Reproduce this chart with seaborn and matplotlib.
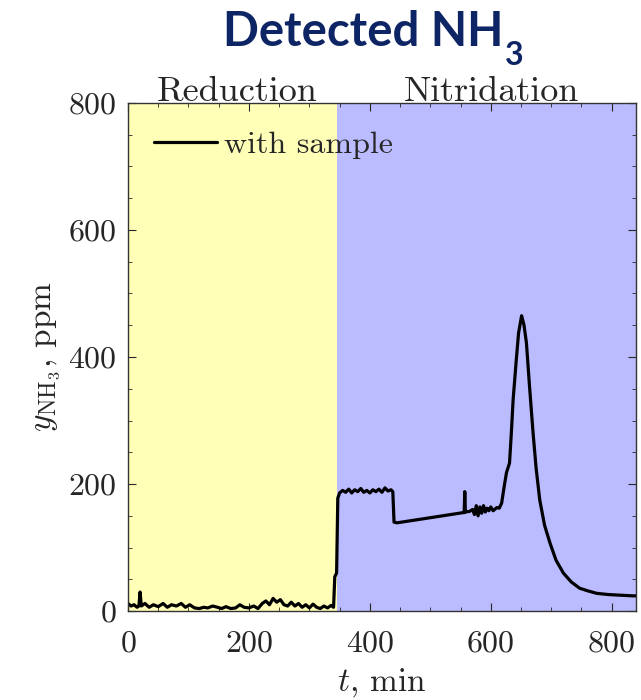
import numpy as np
import pandas as pd
import matplotlib
matplotlib.use('Agg')
import matplotlib.pyplot as plt
from matplotlib.ticker import MultipleLocator
import seaborn as sns

t_min = [0, 5, 10, 15, 18, 20, 22, 28, 35, 42, 50, 58, 65, 72, 80, 88, 95, 102, 110, 118,
         125, 132, 140, 148, 155, 162, 170, 178, 185, 192, 200, 208, 215, 222, 228, 234,
         240, 246, 252, 258, 264, 270, 276, 282, 288, 294, 300, 306, 312, 318, 324, 330,
         336, 340,
         342, 345, 347, 350,
         355, 360, 365, 370, 375, 380, 385, 390, 395, 400, 405, 410, 415, 420, 425, 430,
         435, 438,
         440, 445,
         500, 554, 556, 557, 558, 565,
         570, 573, 576, 579, 582, 585, 588, 591, 594, 597, 600, 604, 610, 614,
         618, 622, 626, 631, 634, 637, 642, 646, 651, 655, 659, 664, 670, 675, 681, 689,
         698, 708, 720, 733, 747, 760, 775, 795, 815, 835, 840]
y_ppm = [12, 8, 10, 6, 8, 30, 8, 12, 6, 10, 7, 12, 6, 10, 8, 12, 6, 10, 5, 4,
         6, 5, 8, 6, 4, 7, 4, 5, 10, 6, 5, 8, 4, 12, 16, 10,
         20, 14, 18, 10, 8, 14, 8, 12, 6, 10, 5, 11, 6, 4, 8, 5,
         9, 6,
         54, 60, 178, 186,
         190, 187, 192, 186, 191, 188, 193, 187, 190, 186, 191, 188, 192, 187, 194, 189,
         191, 188,
         140, 139,
         147, 155, 155, 188, 156, 157,
         160, 152, 166, 150, 164, 154, 166, 156, 162, 158, 164, 158, 163, 162,
         170, 195, 218, 233, 280, 333, 393, 438, 465, 450, 422, 355, 280, 225, 175, 135,
         107, 80, 60, 46, 36, 32, 28, 26, 25, 24, 24]

phases = ['Reduction', 'Nitridation']
phase_start = [0, 345]
phase_end = [345, 840]
phase_colors = ['#ffffb8', '#bbbbff']

df = pd.DataFrame({'t': t_min, 'y': y_ppm})

sns.set_style('ticks')
plt.rcParams['font.family'] = ['cmr10', 'DejaVu Serif']
plt.rcParams['mathtext.fontset'] = 'cm'
plt.rcParams['axes.formatter.use_mathtext'] = True

fig = plt.figure(figsize=(6.41, 7.0), dpi=100)
ax = fig.add_axes([0.1997, 0.127, 0.7923, 0.726])

for name, s, e, c in zip(phases, phase_start, phase_end, phase_colors):
    ax.axvspan(s, e, color=c, lw=0, zorder=0)
    ax.text((s + e) / 2 + 8, 0.99, name, transform=ax.get_xaxis_transform(),
            ha='center', va='bottom', fontsize=26)

sns.lineplot(data=df, x='t', y='y', color='black', lw=2.3, sort=False,
             estimator=None, label='with sample', ax=ax)

ax.set_xlim(0, 840)
ax.set_ylim(0, 800)
ax.xaxis.set_major_locator(MultipleLocator(200))
ax.yaxis.set_major_locator(MultipleLocator(200))
ax.xaxis.set_minor_locator(MultipleLocator(50))
ax.yaxis.set_minor_locator(MultipleLocator(50))
ax.tick_params(which='both', direction='in', top=True, right=True, labelsize=23)
ax.tick_params(axis='x', pad=14)
ax.tick_params(axis='y', pad=8)
ax.tick_params(which='major', length=6, width=0.8)
ax.tick_params(which='minor', length=3, width=0.6)
for sp in ax.spines.values():
    sp.set_linewidth(1.0)
    sp.set_color('#333333')

ax.set_xlabel(r'$t$, min', fontsize=24, labelpad=6)
ax.set_ylabel(r'$y_{\mathrm{NH_3}}$, ppm', fontsize=24, labelpad=4)

leg = ax.legend(loc='upper left', frameon=False, fontsize=23, handlelength=2.0,
                handletextpad=0.2, borderaxespad=0.4, bbox_to_anchor=(0.0, 0.995))

title = fig.text(0.567, 0.935, 'Detected NH', ha='center', va='baseline',
                 fontsize=34, fontweight='bold', family='Lato', color='#0e2565')
ax.annotate('3', xy=(1.0, 0.0), xycoords=title, xytext=(1, -8),
            textcoords='offset points', ha='left', va='baseline',
            fontsize=23, fontweight='bold', family='Lato', color='#0e2565')

fig.savefig('out.png', dpi=100)
